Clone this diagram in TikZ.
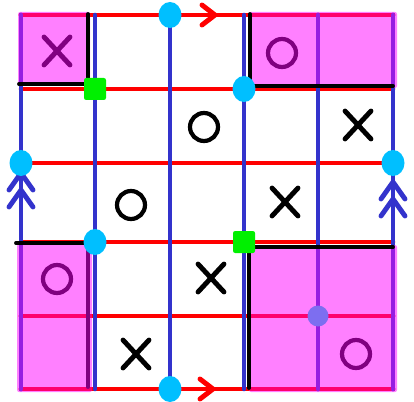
\documentclass[tikz,border=0pt]{standalone}
\usetikzlibrary{shapes.geometric, shapes.misc, positioning}
\definecolor{gridred}{RGB}{255,0,0}
\definecolor{gridblue}{RGB}{51,51,204}
\definecolor{joincyan}{RGB}{0,191,255}
\definecolor{seamgreen}{RGB}{0,240,0}
\definecolor{patchpink}{RGB}{255,128,255}
\definecolor{patchviolet}{RGB}{150,30,225}
\definecolor{patchred}{RGB}{255,0,110}
\definecolor{markpurple}{RGB}{128,0,128}
\definecolor{centerdot}{RGB}{125,110,240}
\tikzset{
    hline/.style={gridred, line width=6.5pt, line cap=round},
    vline/.style={gridblue, line width=6.5pt, line cap=round},
    chev/.style={line width=7pt, line cap=round, line join=round},
    pinkpatch/.style={fill=patchpink, rounded corners=3pt},
    edge/.style={black, line width=5.5pt, line cap=round, line join=round},
    joint/.style={ellipse, fill=joincyan, minimum width=1.15cm, minimum height=1.3cm, inner sep=0pt},
    seam/.style={rectangle, fill=seamgreen, rounded corners=3pt, minimum width=1.1cm, minimum height=1.1cm, inner sep=0pt},
    hub/.style={circle, fill=centerdot, minimum size=1.05cm, inner sep=0pt},
    marko/.style={circle, draw, line width=6pt, minimum size=1.4cm, inner sep=0pt},
    markx/.style={cross out, draw, line width=7pt, line cap=round, minimum width=1.05cm, minimum height=1.15cm, inner sep=0pt},
}
\begin{document}
\begin{tikzpicture}[x=0.05cm, y=-0.05cm]
    \useasboundingbox (0,0) rectangle (414,402);

    % grid points
    \foreach \x [count=\i from 0] in {21,95,170,244,318,393}
        \foreach \y [count=\j from 0] in {15,89,163,242,316,389}
            \coordinate (g\i\j) at (\x,\y);

    % pink patches
    \fill[pinkpatch] (18,12) rectangle (90,85);
    \fill[pinkpatch] (249,12) rectangle (397,88);
    \fill[pinkpatch] (17,244) rectangle (92,392);
    \fill[pinkpatch] (249,245) rectangle (397,392);

    % grid lines
    \foreach \j in {0,...,5}
        \draw[hline] (g0\j) -- (g5\j);
    \foreach \i in {0,...,5}
        \draw[vline] (g\i0) -- (g\i5);

    % lines seen through the patches
    \begin{scope}
        \clip (18,12) rectangle (90,85) (249,12) rectangle (397,88)
              (17,244) rectangle (92,392) (249,245) rectangle (397,392);
        \foreach \j in {0,...,5}
            \draw[hline, patchred] (g0\j) -- (g5\j);
        \foreach \i in {0,...,5}
            \draw[vline, patchviolet] (g\i0) -- (g\i5);
    \end{scope}

    % patch borders
    \draw[edge] (88,14) -- (88,84) -- (19,84);
    \draw[edge] (250,14) -- (250,86) -- (393,86);
    \draw[edge] (16,243) -- (89,243);
    \draw[edge, markpurple] (88,246) -- (88,387);
    \draw[edge] (393,247) -- (249,247) -- (249,388);

    % direction marks
    \coordinate (toptip) at (215,15);
    \coordinate (bottip) at (213,389);
    \coordinate (lefttip) at (21,173);
    \coordinate (righttip) at (393,182);
    \draw[chev, gridred] ([shift={(-13,-10)}]toptip) -- (toptip) -- ([shift={(-13,10)}]toptip);
    \draw[chev, gridred] ([shift={(-13,-10)}]bottip) -- (bottip) -- ([shift={(-13,10)}]bottip);
    \foreach \s in {0,17} {
        \draw[chev, gridblue] ([shift={(-12,17+\s)}]lefttip) -- ([shift={(0,\s)}]lefttip) -- ([shift={(12,17+\s)}]lefttip);
        \draw[chev, gridblue] ([shift={(-12,17+\s)}]righttip) -- ([shift={(0,\s)}]righttip) -- ([shift={(12,17+\s)}]righttip);
    }

    % joints
    \node[joint] (jtop) at (g20) {};
    \node[joint] (jbot) at (g25) {};
    \node[joint] (jleft) at (g02) {};
    \node[joint] (jright) at (g52) {};
    \node[joint] (jlow) at (g13) {};
    \node[joint] (jhigh) at (g31) {};
    \node[seam] (sleft) at (g11) {};
    \node[seam] (sright) at (g33) {};
    \node[hub] (hub) at (g44) {};

    % moves
    \node[markx, markpurple] (c00) at (57,51) {};
    \node[marko, markpurple] (c30) at (282,53) {};
    \node[marko] (c21) at (204,127) {};
    \node[markx] (c41) at (358,125) {};
    \node[marko] (c12) at (131,205) {};
    \node[markx] (c32) at (285,202) {};
    \node[marko, markpurple] (c03) at (57,279) {};
    \node[markx] (c23) at (211,278) {};
    \node[markx] (c14) at (136,354) {};
    \node[marko, markpurple] (c44) at (356,354) {};

\end{tikzpicture}
\end{document}
